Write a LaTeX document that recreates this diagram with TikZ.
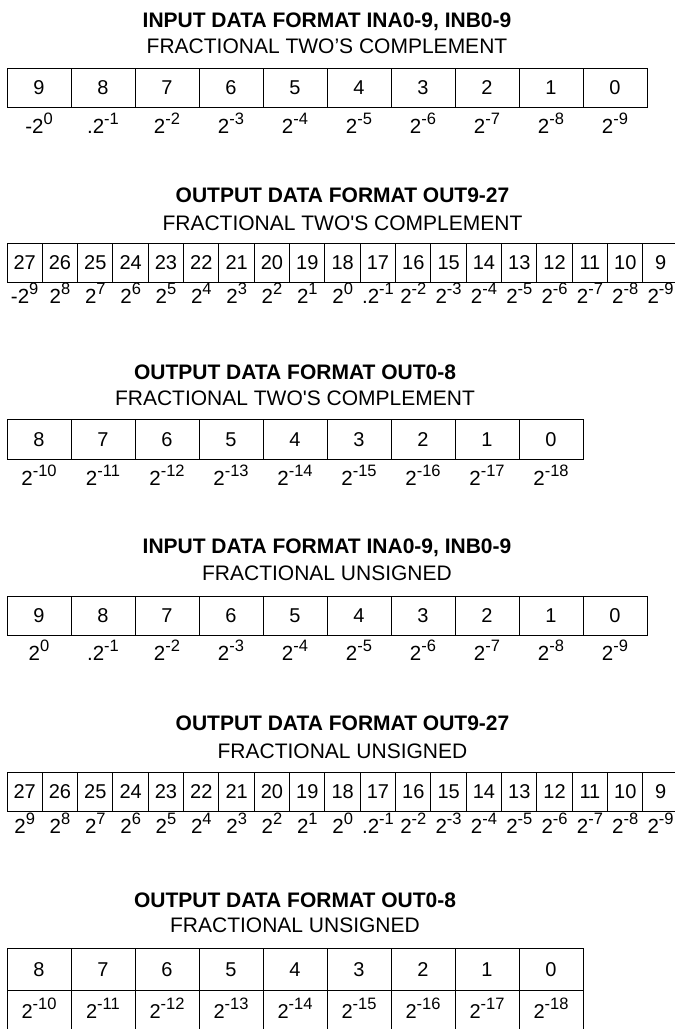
\documentclass[tikz,border=0pt]{standalone}
\usepackage{fontspec}
\newfontfamily\arial{Liberation Sans}
\newcommand\ex[1]{\raisebox{8.5pt}{\fontsize{16.5}{16.5}\selectfont #1}}
\tikzset{
  cellbox/.style={draw, line width=1pt, inner sep=0pt, outer sep=0pt, anchor=north west,
    text height=14.3pt, text depth=0pt, font=\arial\fontsize{20}{24}\selectfont},
  lbl/.style={inner sep=0pt, anchor=base, font=\arial\fontsize{20.5}{24}\selectfont},
  ttl/.style={inner sep=0pt, anchor=base, font=\arial\bfseries\fontsize{21}{25}\selectfont},
  subttl/.style={inner sep=0pt, anchor=base, font=\arial\fontsize{21}{25}\selectfont},
}
\begin{document}
\begin{tikzpicture}[x=1pt,y=-1pt]
\useasboundingbox (0,0) rectangle (675,1029);
\clip (0,0) rectangle (675,1029);

% ---------- Section 1 ----------
\node[ttl] (t1) at (327,27) {INPUT DATA FORMAT INA0-9, INB0-9};
\node[subttl] (u1) at (327,53) {FRACTIONAL TWO’S COMPLEMENT};
\foreach \p/\e [count=\i from 0] in {-/0,./-1,/-2,/-3,/-4,/-5,/-6,/-7,/-8,/-9}{
  \pgfmathsetmacro\xx{7+64*\i}
  \pgfmathtruncatemacro\b{9-\i}
  \node[cellbox, minimum width=64pt, minimum height=39pt] (s1c\b) at (\xx,68) {\b};
  \node[lbl] (s1l\b) at (s1c\b.south |- 0,133) {\p2\ex{\e}};
}

% ---------- Section 2 ----------
\node[ttl] (t2) at (342.5,202) {OUTPUT DATA FORMAT OUT9-27};
\node[subttl] (u2) at (342.5,230) {FRACTIONAL TWO'S COMPLEMENT};
\foreach \p/\e [count=\i from 0] in {-/9,/8,/7,/6,/5,/4,/3,/2,/1,/0,./-1,/-2,/-3,/-4,/-5,/-6,/-7,/-8,/-9}{
  \pgfmathsetmacro\xx{7+35.33*\i}
  \pgfmathtruncatemacro\b{27-\i}
  \node[cellbox, minimum width=35.33pt, minimum height=39pt] (s2c\b) at (\xx,243) {\b};
  \node[lbl] (s2l\b) at (s2c\b.south |- 0,303) {\p2\ex{\e}};
}

% ---------- Section 3 ----------
\node[ttl] (t3) at (295,379) {OUTPUT DATA FORMAT OUT0-8};
\node[subttl] (u3) at (295,405) {FRACTIONAL TWO'S COMPLEMENT};
\foreach \e [count=\i from 0] in {-10,-11,-12,-13,-14,-15,-16,-17,-18}{
  \pgfmathsetmacro\xx{7+64*\i}
  \pgfmathtruncatemacro\b{8-\i}
  \node[cellbox, minimum width=64pt, minimum height=40pt] (s3c\b) at (\xx,419) {\b};
  \node[lbl] (s3l\b) at (s3c\b.south |- 0,485) {2\ex{\e}};
}

% ---------- Section 4 ----------
\node[ttl] (t4) at (327,553) {INPUT DATA FORMAT INA0-9, INB0-9};
\node[subttl] (u4) at (327,580) {FRACTIONAL UNSIGNED};
\foreach \p/\e [count=\i from 0] in {/0,./-1,/-2,/-3,/-4,/-5,/-6,/-7,/-8,/-9}{
  \pgfmathsetmacro\xx{7+64*\i}
  \pgfmathtruncatemacro\b{9-\i}
  \node[cellbox, minimum width=64pt, minimum height=39pt] (s4c\b) at (\xx,596) {\b};
  \node[lbl] (s4l\b) at (s4c\b.south |- 0,660) {\p2\ex{\e}};
}

% ---------- Section 5 ----------
\node[ttl] (t5) at (342.5,730) {OUTPUT DATA FORMAT OUT9-27};
\node[subttl] (u5) at (342.5,758) {FRACTIONAL UNSIGNED};
\foreach \p/\e [count=\i from 0] in {/9,/8,/7,/6,/5,/4,/3,/2,/1,/0,./-1,/-2,/-3,/-4,/-5,/-6,/-7,/-8,/-9}{
  \pgfmathsetmacro\xx{7+35.33*\i}
  \pgfmathtruncatemacro\b{27-\i}
  \node[cellbox, minimum width=35.33pt, minimum height=39pt] (s5c\b) at (\xx,772) {\b};
  \node[lbl] (s5l\b) at (s5c\b.south |- 0,833) {\p2\ex{\e}};
}

% ---------- Section 6 ----------
\node[ttl] (t6) at (295,907) {OUTPUT DATA FORMAT OUT0-8};
\node[subttl] (u6) at (295,932) {FRACTIONAL UNSIGNED};
\foreach \e [count=\i from 0] in {-10,-11,-12,-13,-14,-15,-16,-17,-18}{
  \pgfmathsetmacro\xx{7+64*\i}
  \pgfmathtruncatemacro\b{8-\i}
  \node[cellbox, minimum width=64pt, minimum height=42pt] (s6c\b) at (\xx,948) {\b};
  \node[cellbox, minimum width=64pt, minimum height=42pt] (s6w\b) at (\xx,990) {2\ex{\e}};
}
\end{tikzpicture}
\end{document}
